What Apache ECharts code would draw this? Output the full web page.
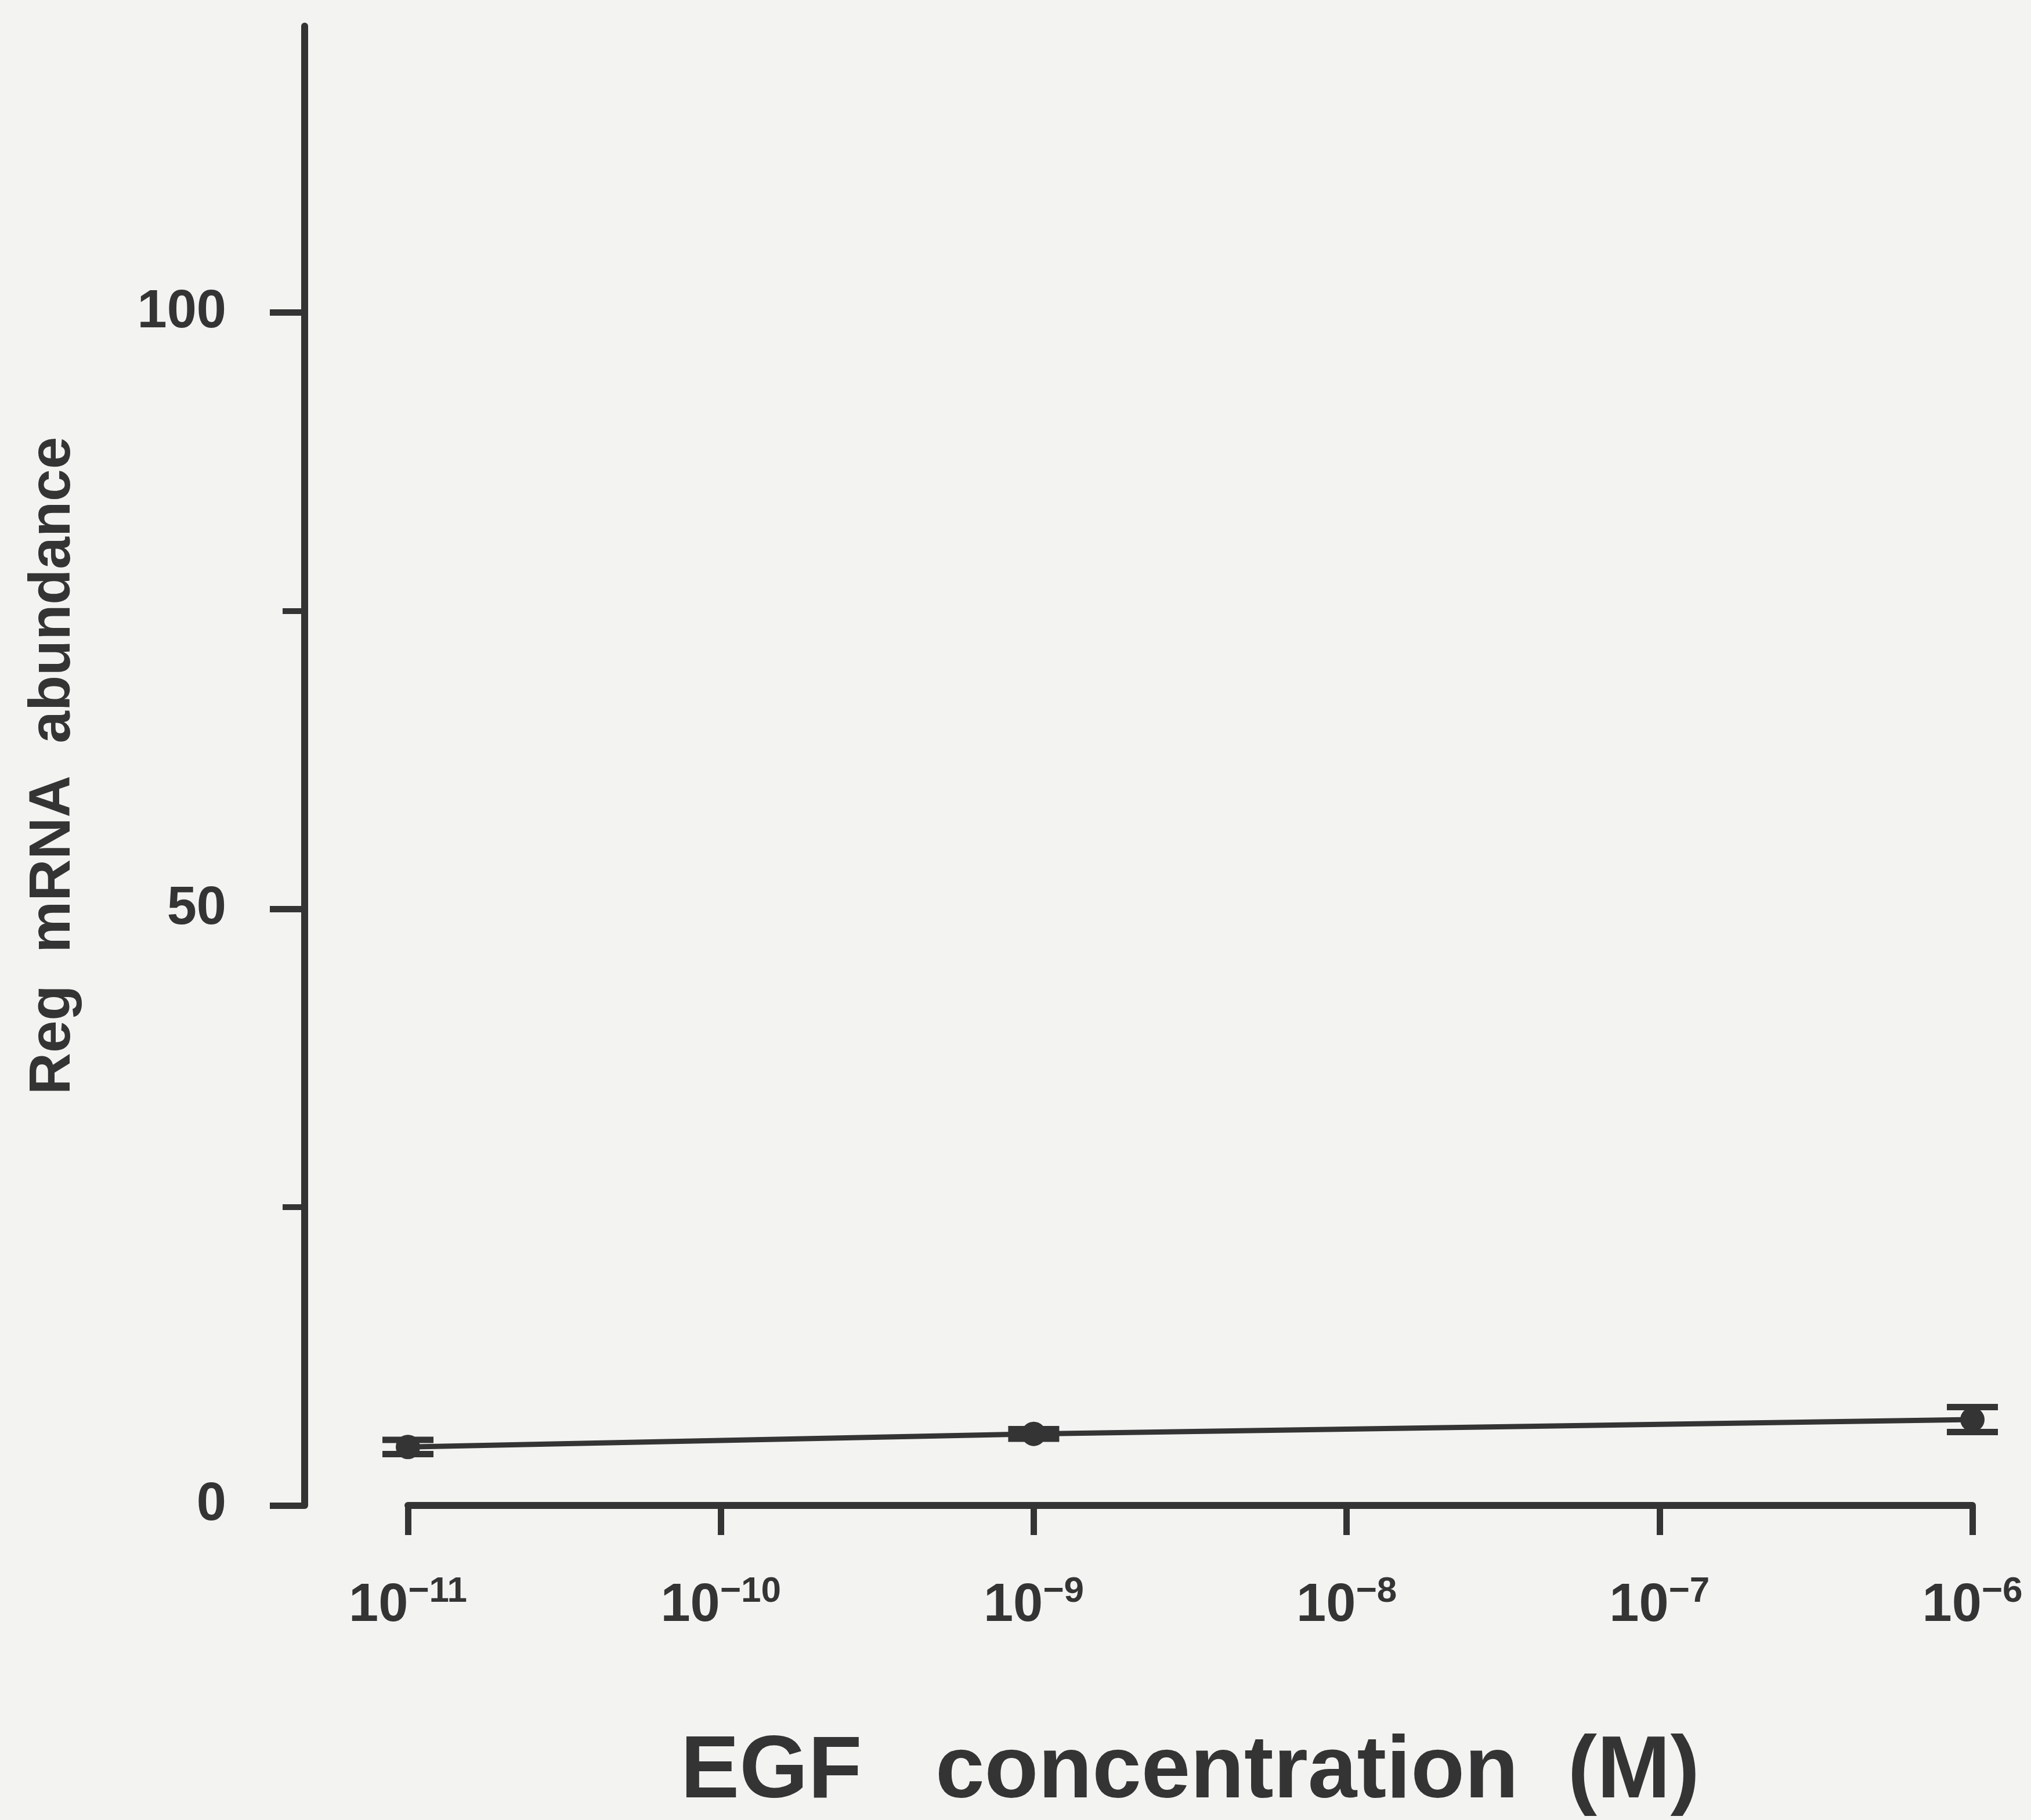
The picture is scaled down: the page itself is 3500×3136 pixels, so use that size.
<!DOCTYPE html>
<html><head><meta charset="utf-8">
<script src="https://cdn.jsdelivr.net/npm/echarts@6/dist/echarts.min.js"></script>
<style>html,body{margin:0;padding:0;background:#f3f3f1}#c{width:3500px;height:3136px}</style>
</head><body><div id="c"></div>
<script>
// Data (EGF concentration as log10 exponent)
const exponents = [-11, -9, -6];
const means = [4.9, 6.0, 7.2];
const errors = [0.6, 0.4, 1.05];
const xTicks = [-11, -10, -9, -8, -7, -6];
const yMajorTicks = [0, 50, 100];
const yMinorTicks = [25, 75];
const xTitle = 'EGF   concentration  (M)';
const yTitle = 'Reg  mRNA  abundance';

const ink = '#343434';
const font = '"Liberation Sans", Arial, Helvetica, sans-serif';

const lineData = exponents.map((e, i) => [e, means[i]]);
const errData = exponents.map((e, i) => [e, means[i], errors[i]]);

const chart = echarts.init(document.getElementById('c'), null, {renderer: 'canvas'});
chart.setOption({
  backgroundColor: '#f3f3f1',
  animation: false,
  grid: {left: 703, right: 101, top: 45, bottom: 542, containLabel: false},
  xAxis: {
    type: 'value', min: -11, max: -6, interval: 1,
    name: xTitle, nameLocation: 'middle', nameGap: 385,
    nameTextStyle: {fontFamily: font, fontWeight: 'bold', fontSize: 152, color: ink},
    axisLine: {show: true, onZero: false, lineStyle: {color: ink, width: 12}},
    axisTick: {show: true, customValues: xTicks, length: 51, lineStyle: {color: ink, width: 11}},
    splitLine: {show: false},
    axisLabel: {
      customValues: xTicks, margin: 118,
      formatter: v => '{b|10}{s|\u2212' + (-v) + '}',
      rich: {
        b: {fontFamily: font, fontWeight: 'bold', fontSize: 92, color: ink},
        s: {fontFamily: font, fontWeight: 'bold', fontSize: 62, color: ink, padding: [0, 0, 50, 0]}
      }
    }
  },
  yAxis: [{
    type: 'value', min: 0, max: 124, position: 'left', offset: 178,
    name: yTitle, nameLocation: 'middle', nameGap: 383, nameRotate: 90,
    nameTextStyle: {fontFamily: font, fontWeight: 'bold', fontSize: 100, color: ink},
    axisLine: {show: true, lineStyle: {color: ink, width: 12}},
    axisTick: {show: true, customValues: yMajorTicks, length: 60, lineStyle: {color: ink, width: 11}},
    axisLabel: {customValues: yMajorTicks, margin: 135, fontFamily: font, fontWeight: 'bold', fontSize: 92, color: ink},
    splitLine: {show: false}
  }, {
    type: 'value', min: 0, max: 124, position: 'left', offset: 178,
    axisLine: {show: false},
    axisTick: {show: true, customValues: yMinorTicks, length: 38, lineStyle: {color: ink, width: 10}},
    axisLabel: {show: false},
    splitLine: {show: false}
  }],
  series: [{
    type: 'line', data: lineData, yAxisIndex: 0,
    symbol: 'circle', symbolSize: 42,
    lineStyle: {color: ink, width: 9},
    itemStyle: {color: ink}
  }, {
    type: 'custom', data: errData, yAxisIndex: 0,
    renderItem: (params, api) => {
      const x = api.value(0), y = api.value(1), e = api.value(2);
      const top = api.coord([x, y + e]);
      const bot = api.coord([x, y - e]);
      const hw = 44;
      const st = {stroke: ink, lineWidth: 11};
      return {type: 'group', children: [
        {type: 'line', shape: {x1: top[0], y1: top[1], x2: bot[0], y2: bot[1]}, style: {stroke: ink, lineWidth: 9}},
        {type: 'line', shape: {x1: top[0] - hw, y1: top[1], x2: top[0] + hw, y2: top[1]}, style: st},
        {type: 'line', shape: {x1: bot[0] - hw, y1: bot[1], x2: bot[0] + hw, y2: bot[1]}, style: st}
      ]};
    }
  }]
});
</script>
</body></html>
